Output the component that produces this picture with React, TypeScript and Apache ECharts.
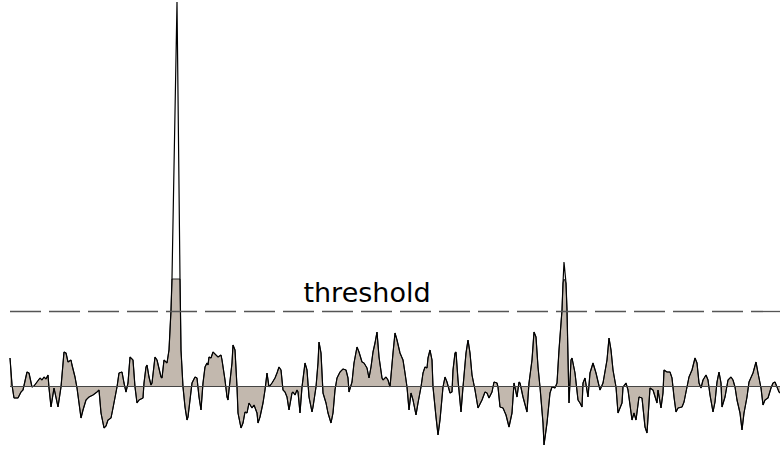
import React, { useEffect, useRef } from "react";
import * as echarts from "echarts";

// time index (samples) and signal amplitude (arbitrary units)
const timeIdx: number[] = [
  0, 2, 4, 8, 11, 13, 17, 19, 22, 24, 27, 30, 32, 34, 36, 38, 39, 41, 44, 48, 51, 54, 56, 58, 61, 62, 65, 67, 71, 73, 76, 79, 83, 87, 89, 91, 94, 96, 98, 101, 103, 107, 109, 112, 114, 116, 118,
  120, 123, 125, 127, 129, 133, 134, 136, 137, 139, 141, 142, 145, 147, 151, 152, 154, 157, 159, 161, 162, 167, 170, 171, 173, 175, 177, 178, 180, 182, 185, 187, 189, 191, 193, 195, 197, 198, 199, 201, 203, 206, 208, 211, 212, 215, 217, 218, 219, 222, 223, 225, 227, 228, 231, 233, 235, 237, 239, 242, 244, 247, 248, 250,
  253, 255, 257, 259, 262, 265, 267, 269, 271, 273, 275, 277, 279, 282, 283, 285, 287, 288, 290, 292, 295, 297, 299, 302, 303, 306, 308, 309, 311, 313, 316, 318, 321, 323, 325, 327, 330, 333, 336, 338, 339, 342, 344, 347, 349, 352, 354, 357, 359, 361, 363, 365, 367, 369, 372, 373, 376, 378, 380,
  383, 385, 387, 390, 393, 395, 397, 399, 401, 403, 406, 408, 411, 413, 415, 417, 418, 420, 422, 423, 426, 428, 430, 433, 435, 437, 440, 442, 443, 445, 446, 448, 451, 453, 456, 458, 460, 462, 465, 468, 472, 475, 477, 479, 482, 484, 487, 488, 490, 493, 496, 499, 502, 504, 507, 509,
  510, 513, 517, 519, 522, 524, 526, 528, 530, 533, 534, 537, 540, 542, 545, 547, 549, 552, 553, 554, 556, 557, 558, 559, 561, 562, 565, 568, 570, 572, 573, 575, 578, 580, 583, 586, 590, 593, 597, 599, 601, 603, 606, 608, 612, 613, 616, 618, 622, 624, 626, 629, 632, 635, 637,
  640, 643, 647, 648, 651, 653, 654, 657, 660, 662, 664, 666, 668, 672, 674, 677, 679, 682, 685, 687, 689, 691, 693, 696, 698, 700, 703, 705, 707, 709, 711, 712, 715, 718, 721, 723, 725, 727, 730, 732, 734, 737, 739, 743, 746, 748, 751, 753, 755, 758, 761, 763, 765, 767, 769, 770,
];

const signal: number[] = [
  28, 1, -12, -12, -6, -4, 14, 13, -1, 0, 4, 8, 6, 9, 7, 11, -2, -21, -2, -21, -1, 34, 33, 24, 26, 21, 9, -2, -32, -24, -14, -11, -9, -6, -4, -27, -42, -40, -34, -32, -22, -1, 13, 14, 3, -6, 3,
  29, 26, -1, -17, -14, -12, 3, 19, 21, 9, 1, 3, 29, 26, 9, 8, 26, 23, 36, 76, 108, 384, 108, 36, -1, -21, -34, -31, -14, 3, 9, 8, -11, -24, 3, 19, 23, 21, 29, 28, 34, 31, 29, 31, 26, 6, -11, -14, -4, 23, 41, 36, -1, -27, -42, -37, -26, -27, -17, -22, -19, -27, -37, -31,
  -17, -4, 13, -1, 3, 8, 13, 19, 16, -4, -6, -11, -24, -7, -6, -9, -4, -6, -27, -1, 23, 16, -11, -26, -21, -1, 23, 44, 33, -7, -17, -27, -37, -27, -4, 8, 14, 17, 16, 8, -6, 4, 23, 39, 34, 24, 23, 18, 8, 19, 34, 43, 54, 29, 8, 6, 9, 6, -1,
  33, 53, 46, 33, 26, 13, -1, -24, -7, -14, -29, -17, -1, 13, 19, 18, 28, 36, 26, -1, -31, -49, -34, -1, 9, 4, -7, -6, 16, 33, 34, 6, -26, -1, 33, 46, 33, 11, -4, -22, -14, -6, -7, -12, -6, 4, 3, -1, -21, -22, -29, -41, -27, 3, -11, 4,
  3, -11, -26, 3, 26, 54, 49, 19, -1, -37, -59, -37, -7, -1, -2, 3, 36, 76, 103, 124, 103, 76, 29, -17, 26, 28, 13, -14, -17, -21, 3, 8, -11, 13, 23, 13, -4, 3, 26, 48, 36, 16, -1, -27, -17, -1, 3, -4, -34, -27, -34, -11, -12, -41, -47,
  -2, -4, -17, -4, -22, -7, 16, 14, 14, 8, -11, -26, -22, -21, -16, -1, 9, 16, 28, 23, 3, -2, 6, 11, 6, -9, -26, -16, 4, 14, 3, -21, -11, 6, 9, 6, -1, -14, -27, -44, -27, -11, 4, 13, 24, 13, -2, -19, -14, -12, -2, 3, 4, -1, -6, -7,
];

const THRESHOLD = 75;
const FILL_CAP = 107;

export default function App() {
  const ref = useRef<HTMLDivElement>(null);

  useEffect(() => {
    if (!ref.current) return;
    const chart = echarts.init(ref.current, undefined, { renderer: "svg" });
    const full = timeIdx.map((t, i) => [t, signal[i]]);
    const capped = timeIdx.map((t, i) => [t, Math.min(signal[i], FILL_CAP)]);

    chart.setOption({
      animation: false,
      backgroundColor: "#ffffff",
      grid: { left: 10, right: 0, top: 0, bottom: 0 },
      xAxis: {
        type: "value",
        min: 0,
        max: 770,
        show: false,
      },
      yAxis: {
        type: "value",
        min: -65,
        max: 386,
        show: false,
      },
      series: [
        {
          type: "line",
          data: capped,
          symbol: "none",
          lineStyle: { color: "#2a2a2a", width: 1 },
          areaStyle: { color: "#c2b8ae", opacity: 1, origin: 0 },
          z: 2,
        },
        {
          type: "line",
          data: full,
          symbol: "none",
          lineStyle: { color: "#000000", width: 1.2 },
          z: 3,
          markLine: {
            silent: true,
            symbol: "none",
            label: { show: false },
            data: [
              { yAxis: 0, lineStyle: { color: "#444444", width: 1.2, type: "solid" } },
              { yAxis: THRESHOLD, lineStyle: { color: "#555555", width: 1.3, type: [31, 8] } },
            ],
          },
        },
      ],
      graphic: [
        {
          type: "text",
          x: 367,
          y: 306,
          style: {
            text: "threshold",
            fontFamily: "DejaVu Sans",
            fontSize: 27,
            fill: "#000000",
            align: "center",
            verticalAlign: "bottom",
          },
        },
      ],
    });
    return () => chart.dispose();
  }, []);

  return (
    <div
      ref={ref}
      style={{ position: "absolute", left: 0, top: 0, width: 780, height: 451 }}
    />
  );
}
